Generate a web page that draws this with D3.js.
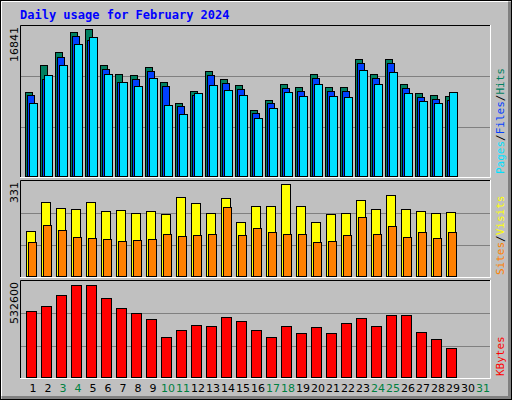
<!DOCTYPE html>
<html><head><meta charset="utf-8">
<script src="https://cdn.jsdelivr.net/npm/d3@7"></script>
<style>body{margin:0;background:#fff}</style>
</head><body><div id="chart"></div>
<script>
// DATA
const days = d3.range(1, 32);
const weekend = [3, 4, 10, 11, 17, 18, 24, 25, 31];
const hits = [9478,12490,13940,16170,16500,12490,11490,11370,12270,10590,8250,9590,11820,10930,10260,7470,8590,10370,10040,11490,10040,10040,13160,11490,13160,10370,9370,9150,9030,0,0];
const files = [9150,10900,13400,15700,15300,12100,10600,10900,11800,10150,7900,9150,11400,10500,9800,7100,8250,9950,9600,11050,9600,9600,12700,11050,12700,9950,8900,8700,8600,0,0];
const pages = [8250,11370,12490,14830,15610,11490,10590,10150,11040,8030,7025,9370,10260,9700,9150,6580,7700,9480,9030,10370,9030,8920,11930,10370,11710,9370,8470,8250,9480,0,0];
const visits = [159,259,238,234,259,228,231,221,228,217,276,255,221,272,190,245,245,321,245,190,217,221,265,234,283,234,228,221,224,0,0];
const sites = [121,179,162,138,134,131,124,128,131,148,141,145,148,241,145,169,155,148,148,121,124,145,207,148,176,138,155,134,155,0,0];
const kbytes = [369600,396700,456500,510900,510900,440200,385900,358700,326100,222800,266300,293500,288100,337000,315200,260900,222800,288100,244600,282600,244600,304400,331500,288100,347800,347800,250000,212000,163000,0,0];
const maxHits = 16841, maxVisits = 331, maxKB = 532600;

const W = 512, H = 400;
const svg = d3.select('#chart').append('svg').attr('width', W).attr('height', H);
const font = 'DejaVu Sans';

// frame
svg.append('rect').attr('width', W).attr('height', H).attr('fill', '#c0c0c0');
svg.append('rect').attr('x', 0.5).attr('y', 0.5).attr('width', W - 1).attr('height', H - 1).attr('fill', 'none').attr('stroke', '#000');
svg.append('path').attr('d', `M${W-2.5},2 V${H-2.5} H2`).attr('stroke', '#808080').attr('stroke-width', 3).attr('fill', 'none');
svg.append('path').attr('d', `M1.5,${H-4} V1.5 H${W-4}`).attr('stroke', '#fff').attr('fill', 'none');

svg.append('text').attr('x', 20).attr('y', 19).text('Daily usage for February 2024')
    .attr('font-family', 'DejaVu Sans Mono').attr('font-weight', 'bold').attr('font-size', 12).attr('fill', '#0000ff');

const x = d3.scaleBand().domain(days).range([25, 25 + 15 * 31]);

const panels = [
    {top: 25, bottom: 177, max: maxHits},
    {top: 180, bottom: 277, max: maxVisits},
    {top: 280, bottom: 378, max: maxKB}
];

panels.forEach(p => {
    p.y = d3.scaleLinear().domain([0, p.max]).range([p.bottom, p.top + 1]);
    svg.append('rect').attr('x', 20).attr('y', p.top).attr('width', 470).attr('height', p.bottom - p.top)
        .attr('fill', '#c0c0c0');
    svg.append('path').attr('d', `M20.5,${p.bottom} V${p.top + 0.5} H490`).attr('stroke', '#000').attr('fill', 'none');
    svg.append('path').attr('d', `M20,${p.bottom + 0.5} H490.5 V${p.top}`).attr('stroke', '#fff').attr('fill', 'none');
    [1 / 3, 2 / 3].forEach(f => {
        const gy = Math.round(p.y(p.max * f)) + 0.5;
        svg.append('line').attr('x1', 21).attr('x2', 490).attr('y1', gy).attr('y2', gy).attr('stroke', '#808080');
    });
    svg.append('text').attr('transform', `translate(18,${p.top + 2}) rotate(-90)`)
        .attr('text-anchor', 'end').attr('font-family', font).attr('font-size', 11).text(p.max);
});

function bars(data, panel, dx, w, color) {
    svg.append('g').selectAll('rect').data(days.filter((d, i) => data[i] > 0)).join('rect')
        .attr('x', d => x(d) + dx + 0.5)
        .attr('y', d => Math.round(panel.y(data[d - 1])) + 0.5)
        .attr('width', w)
        .attr('height', d => panel.bottom - Math.round(panel.y(data[d - 1])) - 1)
        .attr('fill', color).attr('stroke', '#000');
}
bars(hits, panels[0], 0, 7, '#008060');
bars(files, panels[0], 2, 7, '#0040ff');
bars(pages, panels[0], 4, 8, '#00e0ff');
bars(visits, panels[1], 1, 9, '#ffff00');
bars(sites, panels[1], 3, 8, '#ff8000');
bars(kbytes, panels[2], 1, 10, '#ff0000');

// day labels
svg.append('g').selectAll('text').data(days).join('text')
    .attr('x', d => x(d) + 8).attr('y', 392).attr('text-anchor', 'middle')
    .attr('font-family', font).attr('font-size', 11)
    .attr('fill', d => weekend.includes(d) ? '#008040' : '#000').text(d => d);

// right-side legends
function legend(y, parts) {
    const t = svg.append('text').attr('transform', `translate(504,${y}) rotate(-90)`)
        .attr('font-family', 'DejaVu Sans Mono').attr('font-size', 11);
    parts.forEach(([s, c]) => t.append('tspan').attr('fill', c).text(s));
}
legend(174, [['Pages', '#00e0ff'], ['/', '#000'], ['Files', '#0040ff'], ['/', '#000'], ['Hits', '#008060']]);
legend(275, [['Sites', '#ff8000'], ['/', '#000'], ['Visits', '#ffff00']]);
legend(376, [['KBytes', '#ff0000']]);
</script></body></html>
